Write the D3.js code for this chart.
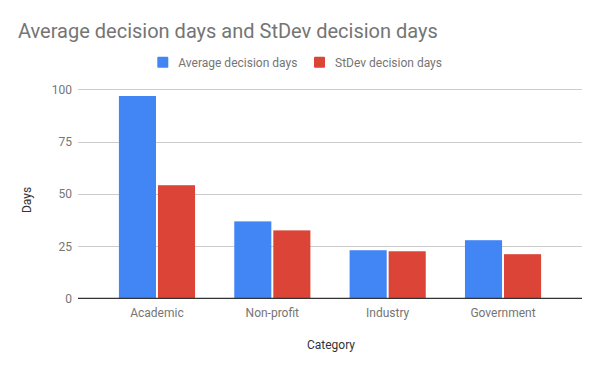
<!DOCTYPE html>
<html><head><meta charset="utf-8">
<script src="https://cdn.jsdelivr.net/npm/d3@7"></script>
<style>body{margin:0;background:#fff}svg{display:block;font-family:Roboto,sans-serif}</style>
</head><body>
<svg id="c" width="600" height="371"></svg>
<script>
const categories = ["Academic","Non-profit","Industry","Government"];
const seriesNames = ["Average decision days","StDev decision days"];
const averageDays = [96.8, 36.8, 23.0, 27.8];
const stdevDays = [54.1, 32.5, 22.5, 21.1];
const yTicks = [0,25,50,75,100];
const colors = ["#4285F4","#DB4437"];

const svg = d3.select("#c");
const plotL = 78, plotR = 582, plotT = 89.3, plotB = 298.3;
const y = d3.scaleLinear().domain([0,100]).range([plotB, plotT]);
const x0 = d3.scaleBand().domain(categories).range([99.3,560.7]).paddingInner(0.34).paddingOuter(0.17);
const x1 = d3.scaleBand().domain(seriesNames).range([0,x0.bandwidth()]).paddingInner(0.05);

// title
svg.append("text").attr("x",18).attr("y",38.3).attr("font-size",20).attr("fill","#757575").text("Average decision days and StDev decision days");

// legend
const leg = [{x:157.3,tx:178.3},{x:314,tx:335}];
seriesNames.forEach((s,i)=>{
  svg.append("rect").attr("x",leg[i].x).attr("y",56.7).attr("width",11).attr("height",11).attr("rx",1).attr("fill",colors[i]);
  svg.append("text").attr("x",leg[i].tx).attr("y",66.7).attr("font-size",12).attr("fill","#757575").text(s);
});

// gridlines
svg.append("g").selectAll("line").data(yTicks.filter(t=>t>0)).join("line")
  .attr("x1",plotL).attr("x2",plotR).attr("y1",d=>Math.round(y(d))+0.5).attr("y2",d=>Math.round(y(d))+0.5)
  .attr("stroke","#cccccc").attr("stroke-width",1);

// y axis labels
svg.append("g").selectAll("text").data(yTicks).join("text")
  .attr("x",72).attr("y",d=>y(d)+4.5).attr("text-anchor","end").attr("font-size",12).attr("fill","#757575").text(d=>d);

// bars
const data = categories.map((c,i)=>({c, vals:[averageDays[i], stdevDays[i]]}));
const g = svg.append("g").selectAll("g").data(data).join("g").attr("transform",d=>`translate(${x0(d.c)},0)`);
g.selectAll("rect").data(d=>d.vals.map((v,i)=>({v,s:seriesNames[i],i}))).join("rect")
  .attr("x",d=>x1(d.s)).attr("width",x1.bandwidth())
  .attr("y",d=>y(d.v)).attr("height",d=>plotB-y(d.v))
  .attr("fill",d=>colors[d.i]);

// baseline
svg.append("line").attr("x1",plotL).attr("x2",plotR).attr("y1",plotB).attr("y2",plotB).attr("stroke","#333").attr("stroke-width",1.3);

// x labels
svg.append("g").selectAll("text").data(categories).join("text")
  .attr("x",d=>x0(d)+x0.bandwidth()/2).attr("y",316.5).attr("text-anchor","middle").attr("font-size",12).attr("fill","#757575").text(d=>d);

// axis titles
svg.append("text").attr("x",331).attr("y",348.5).attr("text-anchor","middle").attr("font-size",12).attr("fill","#333").text("Category");
svg.append("text").attr("transform","translate(31,200) rotate(-90)").attr("text-anchor","middle").attr("font-size",12).attr("fill","#333").text("Days");
</script>
</body></html>
